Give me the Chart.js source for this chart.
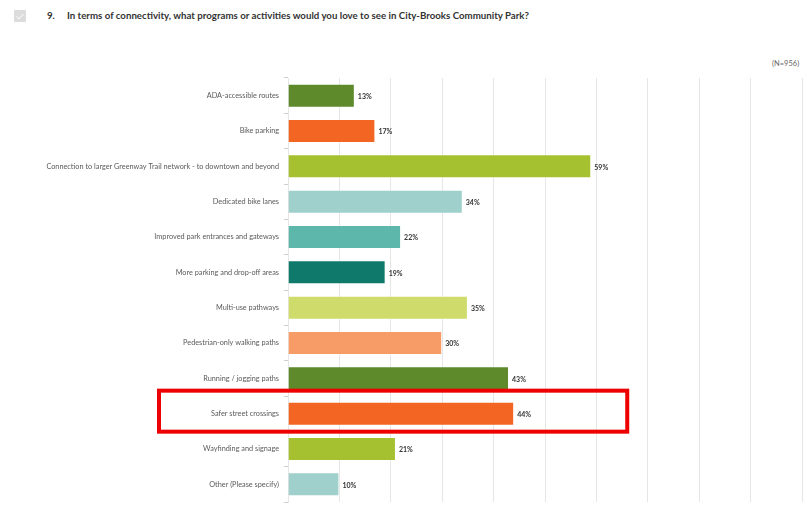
<!DOCTYPE html>
<html>
<head>
<meta charset="utf-8">
<script src="https://cdn.jsdelivr.net/npm/chart.js@4"></script>
<style>
  html, body { margin: 0; padding: 0; background: #fff; }
  #wrap { position: relative; width: 804px; height: 506px; }
  #chk { position: absolute; left: 14px; top: 10px; width: 12px; height: 12px; background: #dcdcdc; border-radius: 1px; }
  #chk:after { content: ''; position: absolute; left: 4px; top: 2px; width: 3px; height: 6px; border: solid #f4f4f4; border-width: 0 1.5px 1.5px 0; transform: rotate(45deg); }
  #num { position: absolute; left: 47px; top: 9px; font: bold 9.7px Lato, sans-serif; color: #333; }
  #title { position: absolute; left: 67px; top: 9px; font: bold 9.7px Lato, sans-serif; color: #333; white-space: nowrap; }
  #n { position: absolute; left: 772px; top: 59px; font: 7.5px Lato, sans-serif; color: #666; }
  canvas { position: absolute; left: 0; top: 0; }
</style>
</head>
<body>
<div id="wrap">
  <div id="chk"></div>
  <div id="num">9.</div>
  <div id="title">In terms of connectivity, what programs or activities would you love to see in City-Brooks Community Park?</div>
  <div id="n">(N=956)</div>
  <canvas id="graf" width="804" height="506"></canvas>
</div>
<script>
var categories = [
    'ADA-accessible routes',
    'Bike parking',
    'Connection to larger Greenway Trail network - to downtown and beyond',
    'Dedicated bike lanes',
    'Improved park entrances and gateways',
    'More parking and drop-off areas',
    'Multi-use pathways',
    'Pedestrian-only walking paths',
    'Running / jogging paths',
    'Safer street crossings',
    'Wayfinding and signage',
    'Other (Please specify)'
];
var percents = [13, 17, 59, 34, 22, 19, 35, 30, 43, 44, 21, 10];
var barColors = [
    '#5e8a2c', '#f26522', '#a6c12f', '#9fd0cb',
    '#5db8ab', '#0f7a6c', '#cfdc6c', '#f79c66',
    '#5e8a2c', '#f26522', '#a6c12f', '#9fd0cb'
];
var highlightIndex = 9;

// percent labels at end of bars
var valueLabels = {
    id: 'valueLabels',
    afterDatasetsDraw: function(chart) {
        var ctx = chart.ctx;
        var meta = chart.getDatasetMeta(0);
        ctx.save();
        ctx.font = 'bold 7px Lato, sans-serif';
        ctx.fillStyle = '#333';
        ctx.textBaseline = 'middle';
        meta.data.forEach(function(bar, i) {
            ctx.fillText(percents[i] + '%', bar.x + 3, bar.y + 1);
        });
        ctx.restore();
    }
};

// red box round the highlighted row
var highlightBox = {
    id: 'highlightBox',
    afterDraw: function(chart) {
        var ctx = chart.ctx;
        var y = chart.scales.y.getPixelForValue(highlightIndex);
        var left = chart.chartArea.left - 129;
        var right = chart.scales.x.getPixelForValue(66);
        ctx.save();
        ctx.strokeStyle = '#ee0000';
        ctx.lineWidth = 4;
        ctx.strokeRect(left, y - 23, right - left, 41);
        ctx.restore();
    }
};

var chart = new Chart(document.getElementById('graf'), {
    type: 'bar',
    data: {
        labels: categories,
        datasets: [{
            data: percents,
            backgroundColor: barColors,
            borderColor: 'rgba(255,255,255,0.35)',
            borderWidth: 1,
            barPercentage: 0.68,
            categoryPercentage: 1
        }]
    },
    options: {
        indexAxis: 'y',
        responsive: false,
        animation: false,
        events: [],
        layout: { padding: { left: 0, right: 2, top: 78, bottom: 4 } },
        plugins: { legend: { display: false }, tooltip: { enabled: false } },
        scales: {
            x: {
                min: 0,
                max: 100,
                afterFit: function(scale) { scale.height = 0; },
                ticks: { display: false, stepSize: 10, padding: 0 },
                grid: { color: '#e6e6e6', drawTicks: false },
                border: { display: false }
            },
            y: {
                afterFit: function(scale) {
                    scale.width = 288;
                    scale.paddingTop = 0;
                    scale.paddingBottom = 0;
                },
                ticks: {
                    color: '#5a5a5a',
                    font: { family: 'Lato', size: 7.3 },
                    padding: 5
                },
                grid: { drawOnChartArea: false, drawTicks: true, tickLength: 4, color: '#cfcfcf' },
                border: { display: true, color: '#e6e6e6' }
            }
        }
    },
    plugins: [valueLabels, highlightBox]
});
</script>
</body>
</html>
